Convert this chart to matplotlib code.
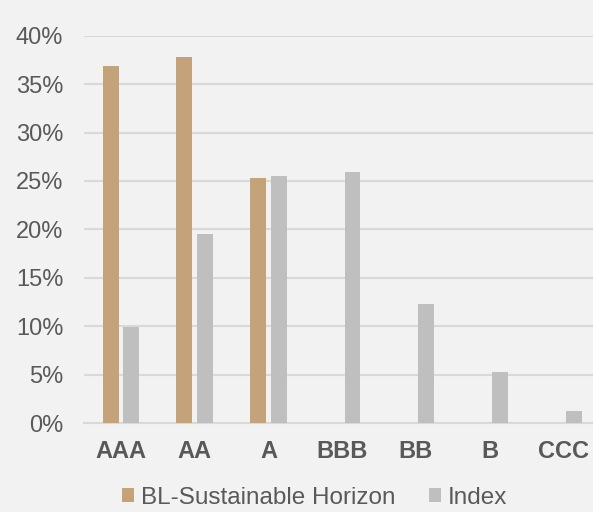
import matplotlib.pyplot as plt
from matplotlib.ticker import PercentFormatter
import numpy as np

# Credit rating breakdown: fund vs index (share of holdings)
ratings = ["AAA", "AA", "A", "BBB", "BB", "B", "CCC"]
fund = [36.9, 37.8, 25.3, 0.0, 0.0, 0.0, 0.0]
index = [9.9, 19.5, 25.5, 25.9, 12.3, 5.3, 1.2]
series_names = ["BL-Sustainable Horizon", "Index"]

tan = "#c4a27a"
grey = "#bfbfbf"
bg = "#f2f2f2"
text_col = "#595959"

plt.rcParams["font.family"] = ["Liberation Sans", "DejaVu Sans"]

fig = plt.figure(figsize=(5.93, 5.12), dpi=100, facecolor=bg)
ax = fig.add_axes([0.1417, 0.1738, 0.8583, 0.7565], facecolor=bg)

x = np.arange(len(ratings))
width = 0.215
ax.bar(x - 0.14, fund, width, color=tan, label=series_names[0], zorder=3)
ax.bar(x + 0.14, index, width, color=grey, label=series_names[1], zorder=3)

ax.set_ylim(0, 40)
ax.set_xlim(-0.5, 6.4)
ax.set_yticks(np.arange(0, 41, 5))
ax.yaxis.set_major_formatter(PercentFormatter(decimals=0))
ax.grid(axis="y", color="#d9d9d9", linewidth=1.5, zorder=0)
ax.set_xticks(x)
ax.set_xticklabels(ratings, fontweight="bold")

for side in ["top", "right", "left"]:
    ax.spines[side].set_visible(False)
ax.spines["bottom"].set_color("#d9d9d9")
ax.spines["bottom"].set_linewidth(1.5)

ax.tick_params(axis="y", length=0, pad=15, labelsize=17, labelcolor=text_col)
ax.tick_params(axis="x", length=0, pad=12, labelsize=17, labelcolor=text_col)

fig.legend(loc="center", bbox_to_anchor=(314.5 / 593, 1 - 498 / 512), ncol=2,
           frameon=False, fontsize=17.5, labelcolor=text_col,
           handlelength=0.5, handleheight=0.5, handletextpad=0.25,
           columnspacing=1.4)

fig.savefig("out.png", dpi=100, facecolor=bg)
